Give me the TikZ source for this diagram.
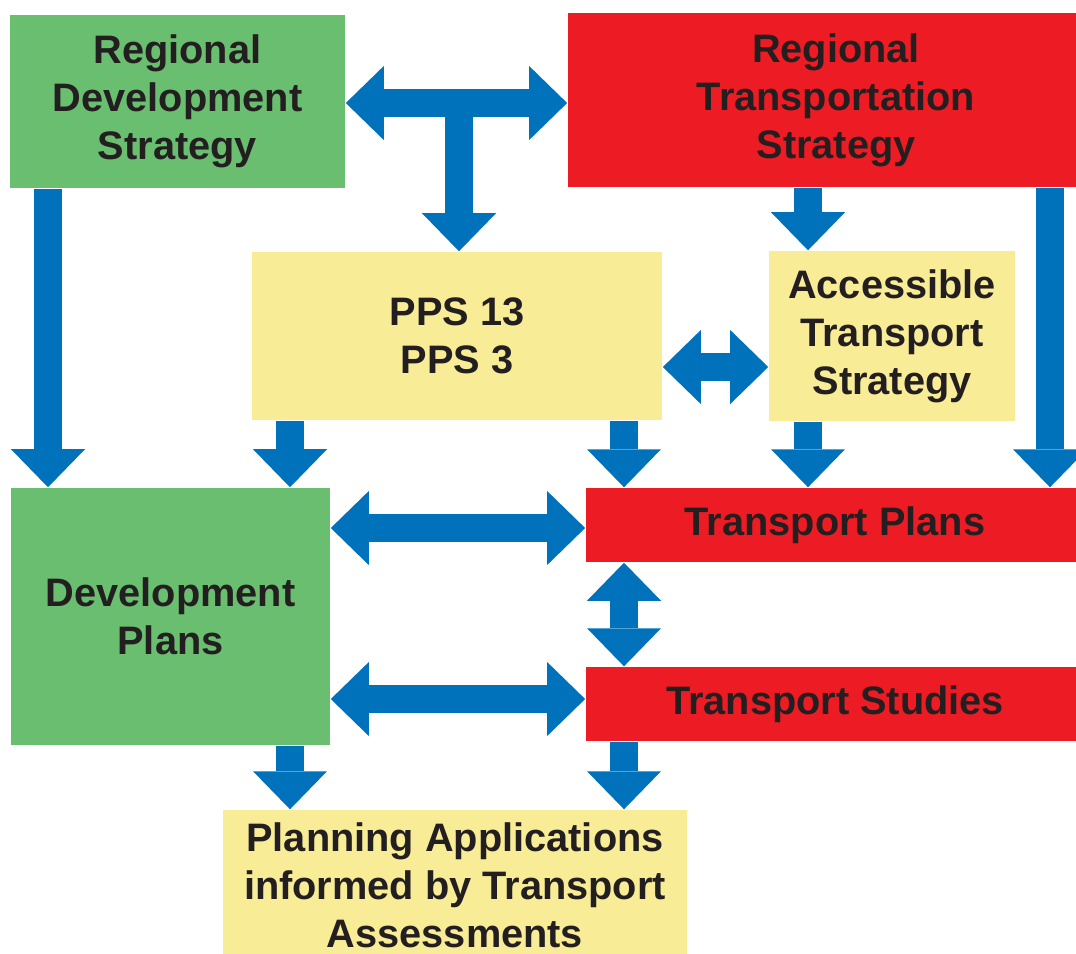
\documentclass[tikz,border=0pt]{standalone}
\usepackage{fontspec}
\setmainfont{Liberation Sans}
\usetikzlibrary{arrows.meta}
\definecolor{rdsgreen}{RGB}{106,190,112}
\definecolor{rtsred}{RGB}{237,28,36}
\definecolor{ppsyellow}{RGB}{248,236,150}
\definecolor{linkblue}{RGB}{0,114,188}
\definecolor{textgrey}{RGB}{35,31,32}

\begin{document}
\begin{tikzpicture}[x=0.01cm,y=-0.01cm,
    box/.style={rectangle,inner sep=0pt,align=center,text=textgrey,
      font=\fontsize{11.3}{13.7}\selectfont\bfseries},
    BlockTip/.tip={Triangle[length=0.38cm,width=0.74cm,line width=0pt]},
    oneway/.style={color=linkblue,line width=0.28cm,-BlockTip},
    twoway/.style={color=linkblue,line width=0.28cm,BlockTip-BlockTip}]
  \useasboundingbox (0,0) rectangle (1076,953);
  % boxes
  \node[box,fill=rdsgreen,minimum width=3.35cm,minimum height=1.73cm](rds)at(177.5,101.5){Regional\\Development\\Strategy};
  \node[box,fill=rtsred,minimum width=5.36cm,minimum height=1.74cm](rts)at(836,100){Regional\\Transportation\\Strategy};
  \node[box,fill=ppsyellow,minimum width=4.10cm,minimum height=1.68cm](pps)at(457,336){PPS 13\\PPS 3};
  \node[box,fill=ppsyellow,minimum width=2.46cm,minimum height=1.70cm](ats)at(892,336){Accessible\\Transport\\Strategy};
  \node[box,fill=rdsgreen,minimum width=3.19cm,minimum height=2.57cm](devplans)at(170.5,616.5){Development\\Plans};
  \node[box,fill=rtsred,minimum width=4.98cm,minimum height=0.74cm](tplans)at(835,525){Transport Plans};
  \node[box,fill=rtsred,minimum width=4.98cm,minimum height=0.74cm](tstudies)at(835,704){Transport Studies};
  \node[box,fill=ppsyellow,minimum width=4.64cm,minimum height=1.50cm](planapps)at(455,885){Planning Applications\\informed by Transport\\Assessments};
  % arrow lanes
  \coordinate (tbar) at (459,103);
  \coordinate (c1) at (48,0);
  \coordinate (c2) at (290,0);
  \coordinate (c3) at (624,0);
  \coordinate (c4) at (808,0);
  \coordinate (c5) at (1050,0);
  \coordinate (r2) at (0,367);
  \coordinate (r3) at (0,528);
  \coordinate (r4) at (0,699);
  % arrows
  \draw[twoway] (rds.east |- tbar) -- (rts.west |- tbar);
  \draw[oneway] (tbar) -- (pps.north -| tbar);
  \draw[oneway] (rds.south -| c1) -- (devplans.north -| c1);
  \draw[oneway] (rts.south -| c4) -- (ats.north -| c4);
  \draw[oneway] (rts.south -| c5) -- (tplans.north -| c5);
  \draw[twoway] (pps.east |- r2) -- (ats.west |- r2);
  \draw[oneway] (pps.south -| c2) -- (devplans.north -| c2);
  \draw[oneway] (pps.south -| c3) -- (tplans.north -| c3);
  \draw[oneway] (ats.south -| c4) -- (tplans.north -| c4);
  \draw[twoway] (devplans.east |- r3) -- (tplans.west |- r3);
  \draw[twoway] (tplans.south -| c3) -- (tstudies.north -| c3);
  \draw[twoway] (devplans.east |- r4) -- (tstudies.west |- r4);
  \draw[oneway] (devplans.south -| c2) -- (planapps.north -| c2);
  \draw[oneway] (tstudies.south -| c3) -- (planapps.north -| c3);
\end{tikzpicture}
\end{document}
